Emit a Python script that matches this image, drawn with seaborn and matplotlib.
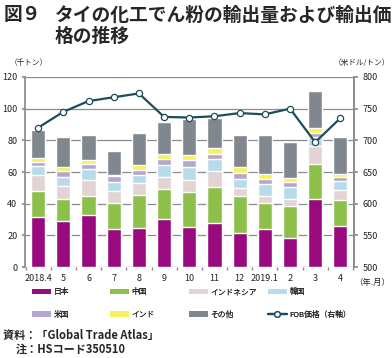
import numpy as np
import pandas as pd
import matplotlib
matplotlib.use("Agg")
import matplotlib.pyplot as plt
from matplotlib.patches import Patch
from matplotlib.lines import Line2D
import seaborn as sns

months = ["2018.4", "5", "6", "7", "8", "9", "10", "11", "12", "2019.1", "2", "3", "4"]
japan = [31.6, 29.0, 32.8, 24.0, 24.6, 30.3, 25.2, 27.8, 21.3, 23.8, 18.3, 43.0, 26.1]
china = [16.4, 14.1, 12.2, 16.6, 21.1, 19.0, 22.4, 22.7, 23.7, 16.4, 20.0, 22.3, 16.4]
indonesia = [10.1, 7.8, 10.1, 7.2, 7.3, 7.5, 7.5, 9.9, 4.7, 4.8, 4.7, 10.9, 6.3]
korea = [5.5, 5.9, 6.8, 6.1, 4.9, 7.8, 8.3, 7.8, 5.9, 7.5, 7.5, 5.7, 5.3]
usa = [2.7, 4.0, 3.4, 3.6, 3.6, 3.8, 4.2, 3.4, 3.8, 3.2, 3.2, 2.7, 2.7]
india = [2.5, 2.4, 2.5, 0.9, 3.1, 3.0, 3.1, 3.3, 3.5, 3.0, 2.7, 3.4, 2.1]
others = [17.9, 19.1, 15.6, 14.8, 20.0, 19.9, 22.6, 19.1, 20.4, 24.6, 22.3, 22.9, 23.0]
fob_price = [720, 745, 762, 768, 774, 737, 736, 738, 743, 741, 750, 697, 735]

names = ["日本", "中国", "インドネシア", "韓国", "米国", "インド", "その他"]
colors = ["#990a7e", "#8dc04b", "#e2d4d2", "#b8dbec", "#b6a6cf", "#f6f25e", "#80878f"]
line_color = "#1d4d5b"

sns.set_theme(style="white")
plt.rcParams["font.family"] = ["Noto Sans CJK JP", "DejaVu Sans"]

df = pd.DataFrame({"month": months})
series = [japan, china, indonesia, korea, usa, india, others]
cum = np.cumsum(np.array(series), axis=0)

fig = plt.figure(figsize=(3.92, 3.58), dpi=100)
ax = fig.add_axes([0.064, 0.254, 0.839, 0.531])

# stacked bars: draw cumulative totals from the top layer down
for i in range(len(series) - 1, -1, -1):
    df["v"] = cum[i]
    sns.barplot(data=df, x="month", y="v", color=colors[i], width=0.56,
                saturation=1, ax=ax, zorder=2)

ax.set_ylim(0, 120)
ax.set_yticks(range(0, 121, 20))
ax.set_xlim(-0.52, 12.54)
ax.set_xlabel("")
ax.set_ylabel("")
ax.yaxis.grid(True, color="#8c8c8c", linewidth=0.9, zorder=0)
ax.set_axisbelow(True)
for s in ["top", "bottom"]:
    ax.spines[s].set_visible(False)
ax.spines["left"].set_color("#8c8c8c")
ax.spines["right"].set_color("#8c8c8c")
ax.tick_params(axis="y", labelsize=6.5, length=2.5, left=True, color="#8c8c8c", pad=3, colors="#222222")
ax.tick_params(axis="x", labelsize=6.5, length=0, pad=5, colors="#222222")
ax.set_xticks(range(len(months)))
ax.set_xticklabels(months)
ax.set_xticks(np.arange(-0.5, 13, 1), minor=True)
ax.tick_params(axis="x", which="minor", length=2, color="#8c8c8c", bottom=True)

ax2 = ax.twinx()
ax2.set_ylim(500, 800)
ax2.set_yticks(range(500, 801, 50))
sns.lineplot(x=np.arange(len(months)), y=fob_price, color=line_color, linewidth=1.6,
             marker="o", markersize=4.5, markerfacecolor="white",
             markeredgecolor=line_color, markeredgewidth=0.9, ax=ax2, zorder=3)
ax2.set_xlim(-0.52, 12.54)
for s in ["top", "bottom", "left"]:
    ax2.spines[s].set_visible(False)
ax2.spines["right"].set_color("#8c8c8c")
ax2.tick_params(axis="y", labelsize=6.5, length=3, right=True, color="#8c8c8c", pad=3, colors="#222222")

fig.text(0.008, 0.985, "図９", fontsize=13.5, fontweight="bold", va="top", ha="left")
fig.text(0.14, 0.985, "タイの化工でん粉の輸出量および輸出価", fontsize=13.5,
         fontweight="bold", va="top", ha="left")
fig.text(0.14, 0.925, "格の推移", fontsize=13.5, fontweight="bold", va="top", ha="left")
fig.text(0.025, 0.823, "（千トン）", fontsize=5.5, va="center", ha="left")
fig.text(0.995, 0.823, "（米ドル/トン）", fontsize=5.5, va="center", ha="right")
fig.text(0.995, 0.21, "（年.月）", fontsize=6, va="center", ha="right")

handles = [Patch(facecolor=c, edgecolor="none") for c in colors]
handles.append(Line2D([0], [0], color=line_color, linewidth=1.6, marker="o", markersize=4,
                      markerfacecolor="white", markeredgecolor=line_color))
labels = names + ["FOB価格（右軸）"]

# one small legend per column, rows filled left to right
col_x = [32, 110, 189, 268]
for c in range(4):
    lg = fig.legend([handles[c], handles[c + 4]], [labels[c], labels[c + 4]],
                    loc="upper left", bbox_to_anchor=(col_x[c] / 392, 0.195),
                    frameon=False, fontsize=5.6, handlelength=2.4, handleheight=0.8,
                    handletextpad=0.35, labelspacing=1.85, borderaxespad=0, borderpad=0)
    fig.add_artist(lg)

fig.text(0.008, 0.062, "資料：「Global Trade Atlas」", fontsize=8, fontweight="bold",
         va="center", ha="left")
fig.text(0.04, 0.024, "注：HSコード350510", fontsize=8, fontweight="bold",
         va="center", ha="left")

fig.savefig("out.png", dpi=100)
